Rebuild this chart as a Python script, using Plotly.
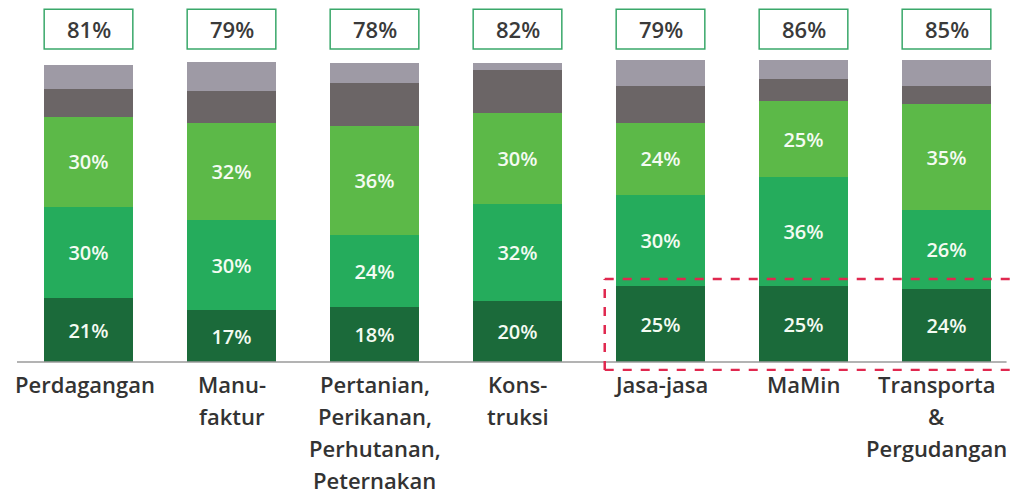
import plotly.graph_objects as go

categories = ["Perdagangan", "Manufaktur", "Pertanian", "Konstruksi", "Jasa-jasa", "MaMin", "Transporta"]
label_lines = [
    ["Perdagangan"],
    ["Manu-", "faktur"],
    ["Pertanian,", "Perikanan,", "Perhutanan,", "Peternakan"],
    ["Kons-", "truksi"],
    ["Jasa-jasa"],
    ["MaMin"],
    ["Transporta", "&", "Pergudangan"],
]
label_xshift = [-4, 0, 0, 0, 0, 0, -10]
seg1 = [21, 17, 18, 20, 25, 25, 24]
seg2 = [30, 30, 24, 32, 30, 36, 26]
seg3 = [30, 32, 36, 30, 24, 25, 35]
seg4 = [9, 10.5, 14, 14.5, 12, 7.5, 6]
seg5 = [8, 9.5, 6.5, 2, 8.5, 6, 8.5]
totals = ["81%", "79%", "78%", "82%", "79%", "86%", "85%"]

FONT = "Open Sans"
x = list(range(len(categories)))

fig = go.Figure()
series = [
    (seg1, "#1b6a3a", True),
    (seg2, "#25ac5c", True),
    (seg3, "#5cb948", True),
    (seg4, "#6b6566", False),
    (seg5, "#9e9aa5", False),
]
for vals, col, show in series:
    fig.add_trace(go.Bar(
        x=x, y=vals, marker=dict(color=col, line=dict(width=0)),
        text=[f"{v}%" for v in vals] if show else None,
        textposition="inside" if show else "none",
        insidetextanchor="middle",
        textfont=dict(color="#f4fbf2", size=20, family=FONT, weight=600),
        hoverinfo="skip", showlegend=False,
    ))

# baseline
fig.add_shape(type="line", xref="x", yref="y", x0=-0.55, x1=6.42, y0=0, y1=0,
              line=dict(color="#9a9a9a", width=1.5))

# total boxes
for i, t in enumerate(totals):
    fig.add_shape(type="rect", xref="x", yref="y", x0=i - 0.31, x1=i + 0.31,
                  y0=103.3, y1=116.4, line=dict(color="#3aa86a", width=1.5),
                  fillcolor="white")
    fig.add_annotation(x=i, y=109.9, xref="x", yref="y", text=t, showarrow=False,
                       font=dict(size=22, color="#3a3a3a", family=FONT, weight=600))

# dashed highlight
dash = dict(color="#e0284f", width=2.5, dash="dash")
fig.add_shape(type="line", xref="x", yref="y", x0=3.61, x1=6.46, y0=27.4, y1=27.4, line=dash)
fig.add_shape(type="line", xref="x", yref="y", x0=3.61, x1=6.46, y0=-2.6, y1=-2.6, line=dash)
fig.add_shape(type="line", xref="x", yref="y", x0=3.61, x1=3.61, y0=-2.6, y1=27.4, line=dash)

# category labels
for i, lines in enumerate(label_lines):
    for k, ln in enumerate(lines):
        fig.add_annotation(x=i, y=0, xref="x", yref="paper", text=ln, showarrow=False,
                           yanchor="middle", yshift=-13 - 32 * k, xshift=label_xshift[i],
                           borderpad=0,
                           font=dict(size=22, color="#333333", family=FONT, weight=600))

fig.update_layout(
    barmode="stack", bargap=0.38,
    width=1011, height=487,
    margin=dict(l=9, r=1, t=0, b=124),
    paper_bgcolor="white", plot_bgcolor="white",
    xaxis=dict(range=[-0.5, 6.5], showticklabels=False, showgrid=False, zeroline=False, visible=False),
    yaxis=dict(range=[-2.97, 116.8], visible=False, showgrid=False, zeroline=False),
    uniformtext=dict(minsize=20, mode="show"),
)
fig.write_html("out.html")
